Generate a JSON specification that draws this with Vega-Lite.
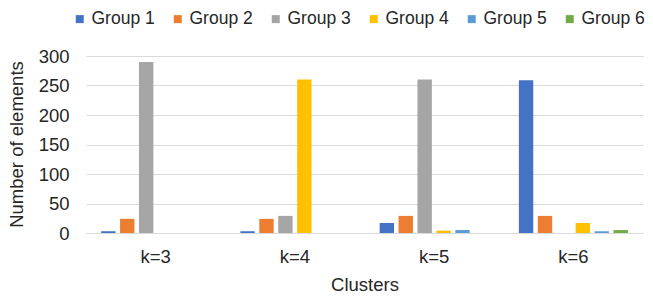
{
  "$schema": "https://vega.github.io/schema/vega-lite/v6.json",
  "width": 557,
  "height": 177,
  "autosize": {"type": "none"},
  "padding": {"left": 86, "top": 56, "right": 10, "bottom": 63},
  "background": "white",
  "config": {
    "view": {"stroke": null},
    "font": "Liberation Sans",
    "axis": {"labelColor": "#262626", "titleColor": "#262626", "labelFont": "Liberation Sans", "titleFont": "Liberation Sans", "titleFontWeight": "normal"},
    "legend": {"labelColor": "#262626", "labelFont": "Liberation Sans"}
  },
  "data": {
    "values": [
      {"cluster": "k=3", "group": "Group 1", "value": 3},
      {"cluster": "k=3", "group": "Group 2", "value": 24},
      {"cluster": "k=3", "group": "Group 3", "value": 290},
      {"cluster": "k=3", "group": "Group 4", "value": 0},
      {"cluster": "k=3", "group": "Group 5", "value": 0},
      {"cluster": "k=3", "group": "Group 6", "value": 0},
      {"cluster": "k=4", "group": "Group 1", "value": 3},
      {"cluster": "k=4", "group": "Group 2", "value": 24},
      {"cluster": "k=4", "group": "Group 3", "value": 29},
      {"cluster": "k=4", "group": "Group 4", "value": 260},
      {"cluster": "k=4", "group": "Group 5", "value": 0},
      {"cluster": "k=4", "group": "Group 6", "value": 0},
      {"cluster": "k=5", "group": "Group 1", "value": 17},
      {"cluster": "k=5", "group": "Group 2", "value": 29},
      {"cluster": "k=5", "group": "Group 3", "value": 260},
      {"cluster": "k=5", "group": "Group 4", "value": 4},
      {"cluster": "k=5", "group": "Group 5", "value": 5},
      {"cluster": "k=5", "group": "Group 6", "value": 0},
      {"cluster": "k=6", "group": "Group 1", "value": 259},
      {"cluster": "k=6", "group": "Group 2", "value": 29},
      {"cluster": "k=6", "group": "Group 3", "value": 0},
      {"cluster": "k=6", "group": "Group 4", "value": 17},
      {"cluster": "k=6", "group": "Group 5", "value": 3},
      {"cluster": "k=6", "group": "Group 6", "value": 5}
    ]
  },
  "mark": {"type": "bar"},
  "encoding": {
    "x": {
      "field": "cluster", "type": "nominal",
      "scale": {"paddingInner": 0, "paddingOuter": 0},
      "axis": {"title": "Clusters", "labelAngle": 0, "labelFontSize": 18.5, "titleFontSize": 18.5, "labelPadding": 14, "titlePadding": 10, "ticks": false, "domainColor": "#d9d9d9", "domainWidth": 1.2}
    },
    "xOffset": {
      "field": "group", "type": "nominal",
      "scale": {"paddingInner": 0.24, "paddingOuter": 0.8}
    },
    "y": {
      "field": "value", "type": "quantitative",
      "scale": {"domain": [0, 300], "nice": false},
      "axis": {"title": "Number of elements", "values": [0, 50, 100, 150, 200, 250, 300], "labelFontSize": 18.5, "titleFontSize": 18.5, "labelPadding": 17, "ticks": false, "domain": false, "gridColor": "#d9d9d9", "gridWidth": 1.2, "titleX": -60, "titleY": 88}
    },
    "color": {
      "field": "group", "type": "nominal",
      "scale": {"domain": ["Group 1", "Group 2", "Group 3", "Group 4", "Group 5", "Group 6"], "range": ["#4472C4", "#ED7D31", "#A5A5A5", "#FFC000", "#5B9BD5", "#70AD47"]},
      "legend": {
        "title": null, "orient": "none", "direction": "horizontal", "columns": 6,
        "legendX": -15, "legendY": -46, "padding": 0,
        "symbolType": "square", "symbolSize": 64, "symbolStrokeWidth": 0, "symbolOpacity": 1,
        "labelFontSize": 17.5, "labelOffset": 3, "columnPadding": 14
      }
    }
  }
}
